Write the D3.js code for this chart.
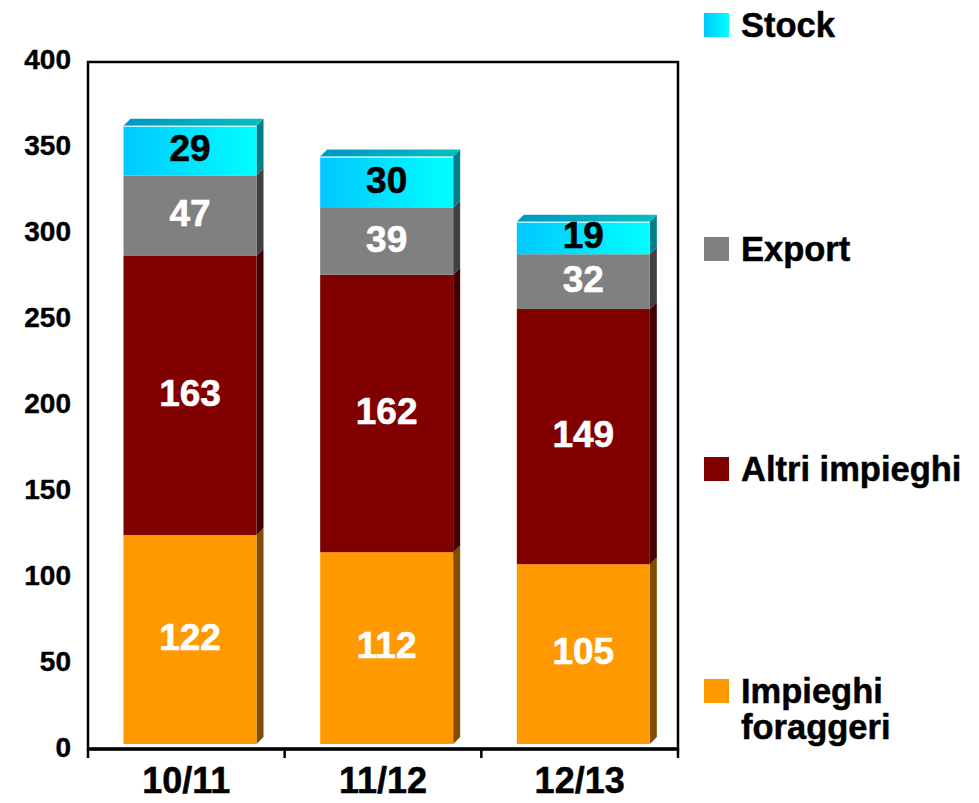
<!DOCTYPE html>
<html>
<head>
<meta charset="utf-8">
<script src="https://cdn.jsdelivr.net/npm/d3@7"></script>
<style>
  body { margin: 0; background: #fff; }
  text { font-family: "Liberation Sans", Arial, sans-serif; font-weight: bold; }
</style>
</head>
<body>
<div id="chart"></div>
<script>
"use strict";

// data
var categories = ["10/11", "11/12", "12/13"];
var seriesNames = ["Impieghi foraggeri", "Altri impieghi", "Export", "Stock"];
var foraggeri = [122, 112, 105];
var altri = [163, 162, 149];
var exportVals = [47, 39, 32];
var stock = [29, 30, 19];
var yTicks = [0, 50, 100, 150, 200, 250, 300, 350, 400];

var width = 979,
  height = 803;

var svg = d3.select("#chart").append("svg")
  .attr("width", width)
  .attr("height", height);

// gradients for the stock segment
var defs = svg.append("defs");
var g1 = defs.append("linearGradient").attr("id", "stockFront");
g1.append("stop").attr("offset", "0%").attr("stop-color", "#00c8ff");
g1.append("stop").attr("offset", "100%").attr("stop-color", "#00ffff");
var g2 = defs.append("linearGradient").attr("id", "stockTop");
g2.append("stop").attr("offset", "0%").attr("stop-color", "#0096c0");
g2.append("stop").attr("offset", "100%").attr("stop-color", "#00c0c0");

var colors = {
  "Impieghi foraggeri": { front: "#ff9900", side: "#804c00", top: "#c07300" },
  "Altri impieghi": { front: "#800000", side: "#400000", top: "#600000" },
  "Export": { front: "#808080", side: "#404040", top: "#606060" },
  "Stock": { front: "url(#stockFront)", side: "#007f8a", top: "url(#stockTop)" }
};
var labelColor = { "Impieghi foraggeri": "#fff", "Altri impieghi": "#fff", "Export": "#fff", "Stock": "#000" };

var rows = categories.map(function(c, i) {
  return { cat: c, "Impieghi foraggeri": foraggeri[i], "Altri impieghi": altri[i], "Export": exportVals[i], "Stock": stock[i] };
});
var stacked = d3.stack().keys(seriesNames)(rows);

// scales
var x = d3.scaleBand().domain(categories).range([88, 678]).padding(0);
var y = d3.scaleLinear().domain([0, 400]).range([744, 59]);        // bar front faces
var yAxisScale = d3.scaleLinear().domain([0, 400]).range([748, 60]); // tick labels

var depth = 7, barW = 133, barOff = 35.5;

// plot frame
svg.append("rect")
  .attr("x", 88).attr("y", 62)
  .attr("width", 590).attr("height", 687)
  .attr("fill", "none").attr("stroke", "#000").attr("stroke-width", 2.5);
svg.append("line")
  .attr("x1", 87).attr("x2", 679).attr("y1", 749).attr("y2", 749)
  .attr("stroke", "#000").attr("stroke-width", 3.5);

// x ticks between categories
svg.selectAll(".xtick")
  .data(d3.range(categories.length + 1))
  .enter().append("line")
  .attr("x1", function(i) { return 88 + i * x.step(); })
  .attr("x2", function(i) { return 88 + i * x.step(); })
  .attr("y1", 749).attr("y2", 758)
  .attr("stroke", "#000").attr("stroke-width", 2.5);

// y axis labels
var yAxis = d3.axisLeft(yAxisScale).tickValues(yTicks).tickSize(0).tickPadding(0);
var yg = svg.append("g").attr("transform", "translate(71,0)").call(yAxis);
yg.select(".domain").remove();
yg.selectAll("text")
  .attr("font-size", 28).attr("font-family", "Liberation Sans, Arial, sans-serif")
  .attr("font-weight", "bold").attr("fill", "#000")
  .attr("stroke", "#000").attr("stroke-width", 0.4);

// x axis labels
var xAxis = d3.axisBottom(x).tickSize(0).tickPadding(0);
var xg = svg.append("g").attr("transform", "translate(0,768)").call(xAxis);
xg.select(".domain").remove();
xg.selectAll("text")
  .attr("font-size", 36).attr("font-family", "Liberation Sans, Arial, sans-serif")
  .attr("font-weight", "bold").attr("fill", "#000").attr("dy", "0.7em")
  .attr("stroke", "#000").attr("stroke-width", 0.5);

// bars
var layers = svg.selectAll(".layer").data(stacked).enter().append("g").attr("class", "layer");

layers.each(function(layer) {
  var key = layer.key;
  var g = d3.select(this);
  var c = colors[key];
  layer.forEach(function(d) {
    var x0 = x(d.data.cat) + barOff, x1 = x0 + barW;
    var yb = y(d[0]), yt = y(d[1]);
    // side face
    g.append("path")
      .attr("d", "M" + x1 + "," + yb + "L" + (x1 + depth) + "," + (yb - depth) +
        "L" + (x1 + depth) + "," + (yt - depth) + "L" + x1 + "," + yt + "Z")
      .attr("fill", c.side);
    // front face
    g.append("rect")
      .attr("x", x0).attr("y", yt)
      .attr("width", barW).attr("height", yb - yt)
      .attr("fill", c.front);
    // top face on last segment
    if (key === seriesNames[seriesNames.length - 1]) {
      g.append("path")
        .attr("d", "M" + x0 + "," + yt + "L" + (x0 + depth) + "," + (yt - depth) +
          "L" + (x1 + depth) + "," + (yt - depth) + "L" + x1 + "," + yt + "Z")
        .attr("fill", c.top);
      g.append("line")
        .attr("x1", x0).attr("x2", x1).attr("y1", yt + 0.5).attr("y2", yt + 0.5)
        .attr("stroke", "#fff").attr("stroke-width", 1);
    }
    // value label
    g.append("text")
      .attr("x", (x0 + x1) / 2)
      .attr("y", (yb + yt) / 2 - 3)
      .attr("dy", "0.36em")
      .attr("text-anchor", "middle")
      .attr("font-size", 37)
      .attr("fill", labelColor[key])
      .attr("stroke", labelColor[key]).attr("stroke-width", 0.6)
      .text(d[1] - d[0]);
  });
});

// legend
var legendItems = [
  { key: "Stock", y: 25, lines: ["Stock"] },
  { key: "Export", y: 249, lines: ["Export"] },
  { key: "Altri impieghi", y: 469, lines: ["Altri impieghi"] },
  { key: "Impieghi foraggeri", y: 691, lines: ["Impieghi", "foraggeri"] }
];
var lg = svg.selectAll(".legend").data(legendItems).enter().append("g").attr("class", "legend");
lg.append("rect")
  .attr("x", 704).attr("y", function(d) { return d.y - 12; })
  .attr("width", 25).attr("height", 24)
  .attr("fill", function(d) { return colors[d.key].front; });
lg.each(function(d) {
  var t = d3.select(this).append("text")
    .attr("x", 741).attr("y", d.y)
    .attr("font-size", 34.5).attr("fill", "#000")
    .attr("stroke", "#000").attr("stroke-width", 0.5);
  d.lines.forEach(function(line, i) {
    t.append("tspan").attr("x", 741).attr("dy", i === 0 ? "0.36em" : "1.02em").text(line);
  });
});
</script>
</body>
</html>
